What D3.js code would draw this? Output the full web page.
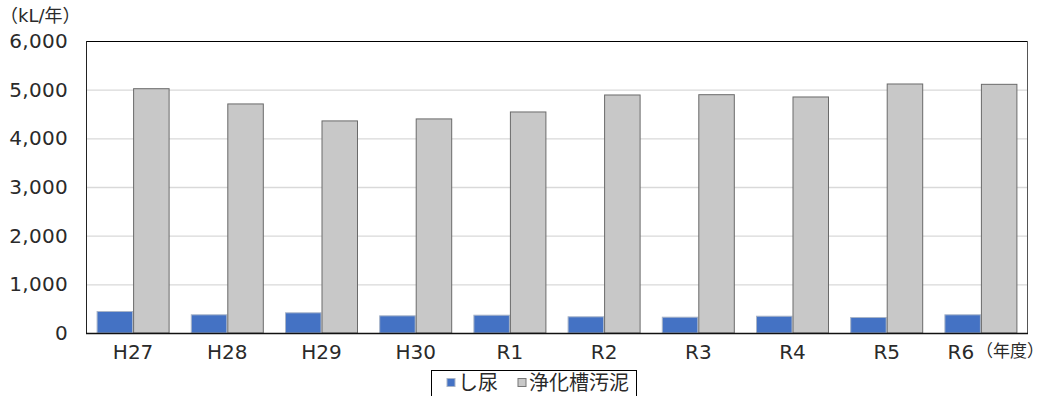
<!DOCTYPE html>
<html><head><meta charset="utf-8">
<script src="https://cdn.jsdelivr.net/npm/d3@7"></script>
<style>body{margin:0;background:#fff;} text{font-family:"DejaVu Sans","Noto Sans CJK JP",sans-serif;}</style>
</head><body>
<svg id="c" width="1054" height="396"></svg>
<script>
const categories = ["H27","H28","H29","H30","R1","R2","R3","R4","R5","R6"];
const shinyo = [452,384,425,363,376,343,335,355,329,384];
const jokaso = [5030,4717,4368,4409,4552,4901,4907,4860,5127,5120];
const yTicks = [0,1000,2000,3000,4000,5000,6000];
const seriesNames = ["し尿","浄化槽汚泥"];
const colors = ["#4472C4","#C8C8C8"];

const svg = d3.select("#c");
const m = {l:86, r:1028, t:41, b:333};
const x = d3.scaleBand().domain(categories).range([m.l, m.r]).paddingInner(0.225).paddingOuter(0.1125);
const xs = d3.scaleBand().domain([0,1]).range([0, x.bandwidth()]);
const y = d3.scaleLinear().domain([0,6000]).range([m.b, m.t]);

// gridlines
svg.append("g").selectAll("line").data(yTicks.filter(d=>d>0 && d<6000)).join("line")
  .attr("x1",m.l).attr("x2",m.r).attr("y1",d=>y(d)+0.5).attr("y2",d=>y(d)+0.5)
  .attr("stroke","#d9d9d9").attr("stroke-width",1.3);

// bars
const series = [shinyo, jokaso];
series.forEach((vals,si)=>{
  svg.append("g").selectAll("rect").data(vals).join("rect")
    .attr("x",(d,i)=>x(categories[i])+xs(si)+0.5)
    .attr("y",d=>y(d)+0.5)
    .attr("width",xs.bandwidth()-1)
    .attr("height",d=>m.b-y(d)-0.5)
    .attr("fill",colors[si])
    .attr("stroke",si===0?"#a8b4c8":"#6a6a6a")
    .attr("stroke-width",1);
});

// frame
svg.append("line").attr("x1",m.l).attr("x2",m.r).attr("y1",m.t+0.5).attr("y2",m.t+0.5).attr("stroke","#000");
svg.append("line").attr("x1",m.r-0.5).attr("x2",m.r-0.5).attr("y1",m.t).attr("y2",m.b).attr("stroke","#555");
svg.append("line").attr("x1",m.l+0.5).attr("x2",m.l+0.5).attr("y1",m.t).attr("y2",m.b).attr("stroke","#222");
svg.append("line").attr("x1",m.l).attr("x2",m.r).attr("y1",m.b+0.5).attr("y2",m.b+0.5).attr("stroke","#111").attr("stroke-width",1.6);

// y axis labels
const yAxis = d3.axisLeft(y).tickValues(yTicks).tickSize(0).tickPadding(18).tickFormat(d3.format(","));
const ga = svg.append("g").attr("transform",`translate(${m.l},0)`).call(yAxis);
ga.select(".domain").remove();
ga.selectAll("text").attr("font-size",20).attr("fill","#2a2a2a").attr("font-family","'DejaVu Sans'").attr("letter-spacing",0.3);

// x axis labels
const xAxis = d3.axisBottom(x).tickSize(0).tickPadding(12);
const gx = svg.append("g").attr("transform",`translate(0,${m.b})`).call(xAxis);
gx.select(".domain").remove();
gx.selectAll("text").attr("font-size",20).attr("fill","#2a2a2a").attr("font-family","'DejaVu Sans'");
gx.selectAll(".tick").filter(d=>d==="R6").select("text").attr("dx",-20);

svg.append("text").attr("x",976).attr("y",357).attr("font-size",17).attr("fill","#2a2a2a")
  .attr("font-family","'Noto Sans CJK JP'").text("（年度）");
svg.append("text").attr("x",0).attr("y",22).attr("font-size",18).attr("fill","#2a2a2a").text("（kL/年）");

// legend
const lg = svg.append("g");
lg.append("rect").attr("x",431.5).attr("y",370.5).attr("width",205).attr("height",30).attr("fill","#fff").attr("stroke","#000");
const lx = [447, 518];
seriesNames.forEach((n,i)=>{
  lg.append("rect").attr("x",lx[i]).attr("y",378.5).attr("width",8).attr("height",8)
    .attr("fill",colors[i]).attr("stroke",i===0?"#a8b4c8":"#777");
  lg.append("text").attr("x",lx[i]+11).attr("y",390).attr("font-size",20).attr("fill","#2a2a2a")
    .attr("font-family","'Noto Sans CJK JP'").text(n);
});
</script>
</body></html>
